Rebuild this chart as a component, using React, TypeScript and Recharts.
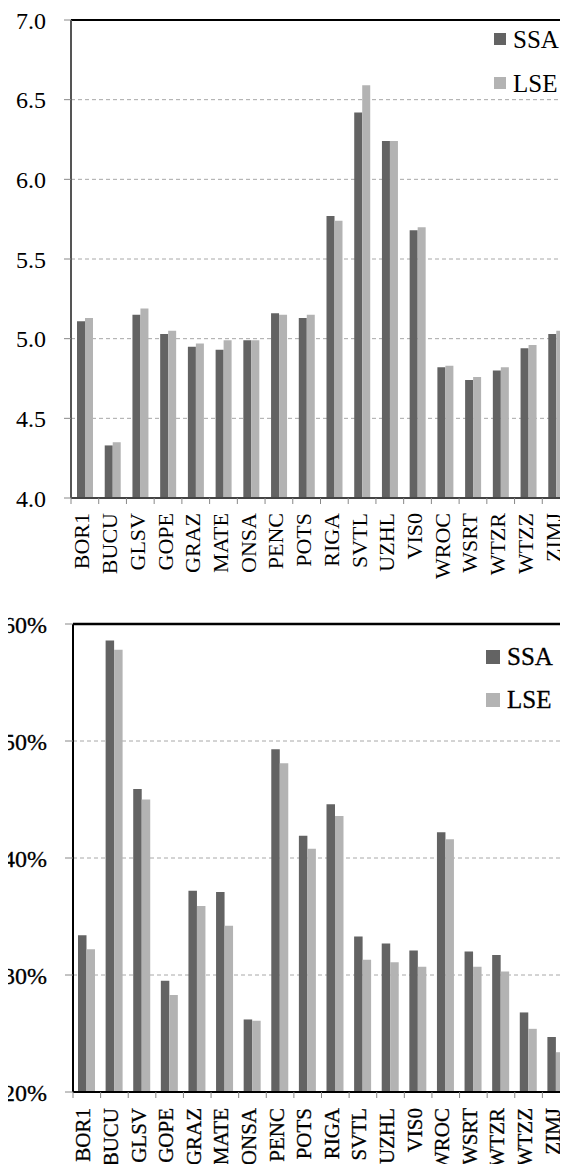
import { BarChart, Bar, XAxis, YAxis, CartesianGrid, Legend, ReferenceLine } from "recharts";

const stations = [
  "BOR1", "BUCU", "GLSV", "GOPE", "GRAZ", "MATE", "ONSA", "PENC", "POTS",
  "RIGA", "SVTL", "UZHL", "VIS0", "WROC", "WSRT", "WTZR", "WTZZ", "ZIMJ",
];
const seriesNames = ["SSA", "LSE"];

// upper panel
const ssaUpper = [5.11, 4.33, 5.15, 5.03, 4.95, 4.93, 4.99, 5.16, 5.13, 5.77, 6.42, 6.24, 5.68, 4.82, 4.74, 4.8, 4.94, 5.03];
const lseUpper = [5.13, 4.35, 5.19, 5.05, 4.97, 4.99, 4.99, 5.15, 5.15, 5.74, 6.59, 6.24, 5.7, 4.83, 4.76, 4.82, 4.96, 5.05];
const upperTicks = [4.0, 4.5, 5.0, 5.5, 6.0, 6.5, 7.0];

// lower panel (percent)
const ssaLower = [33.4, 58.6, 45.9, 29.5, 37.2, 37.1, 26.2, 49.3, 41.9, 44.6, 33.3, 32.7, 32.1, 42.2, 32.0, 31.7, 26.8, 24.7];
const lseLower = [32.2, 57.8, 45.0, 28.3, 35.9, 34.2, 26.1, 48.1, 40.8, 43.6, 31.3, 31.1, 30.7, 41.6, 30.7, 30.3, 25.4, 23.4];
const lowerTicks = [20, 30, 40, 50, 60];

const FONT = '"Liberation Serif", "Times New Roman", serif';
const DARK = "#636363";
const LIGHT = "#b3b3b3";
const CHART_W = 580;
const RIGHT_PAD = 10;

const upperData = stations.map((s, i) => ({ station: s, SSA: ssaUpper[i], LSE: lseUpper[i] }));
const lowerData = stations.map((s, i) => ({ station: s, SSA: ssaLower[i], LSE: lseLower[i] }));

function StationTick(props: any) {
  const { x, y, payload, band, gap, shift, size, heavy } = props;
  const ty = y + gap;
  return (
    <g>
      <line x1={x - band / 2} x2={x - band / 2} y1={y} y2={y + 6} stroke="#888" strokeWidth={1} />
      <text
        x={x + shift}
        y={ty}
        transform={`rotate(-90 ${x + shift} ${ty})`}
        textAnchor="end"
        fontFamily={FONT}
        fontSize={size}
        fill="#000"
        stroke={heavy ? "#000" : "none"}
        strokeWidth={heavy ? 0.3 : 0}
      >
        {payload.value}
      </text>
    </g>
  );
}

function LegendBox(props: any) {
  const { payload, row, swatch, heavy } = props;
  const items = [...(payload || [])].sort(
    (a: any, b: any) => seriesNames.indexOf(a.value) - seriesNames.indexOf(b.value)
  );
  return (
    <div style={{ fontFamily: FONT, fontSize: 25, color: "#000", WebkitTextStroke: heavy ? "0.3px #000" : undefined }}>
      {items.map((p: any) => (
        <div key={p.value} style={{ display: "flex", alignItems: "center", height: row }}>
          <span style={{ display: "inline-block", width: swatch, height: swatch, background: p.color, marginRight: 7 }} />
          <span style={{ lineHeight: 1 }}>{p.value}</span>
        </div>
      ))}
    </div>
  );
}

export default function App() {
  const upperBand = (CHART_W - RIGHT_PAD - 71) / stations.length;
  const lowerBand = (CHART_W - RIGHT_PAD - 73) / stations.length;
  return (
    <div style={{ margin: "-8px", width: 568, height: 1172, overflow: "hidden", background: "#fff" }}>
      <BarChart
        width={CHART_W}
        height={588}
        data={upperData}
        margin={{ top: 20, right: RIGHT_PAD, bottom: 0, left: 0 }}
        barGap={0}
        barSize={8}
      >
        <CartesianGrid vertical={false} stroke="#a8a8a8" strokeDasharray="4 3" />
        <XAxis
          dataKey="station"
          interval={0}
          height={90}
          tickLine={false}
          tickSize={0}
          tickMargin={0}
          axisLine={{ stroke: "#444", strokeWidth: 2 }}
          tick={(p: any) => <StationTick {...p} band={upperBand} gap={15} shift={4.5} size={22} />}
        />
        <YAxis
          width={71}
          domain={[4, 7]}
          ticks={upperTicks}
          tickFormatter={(v: number) => v.toFixed(1)}
          tickSize={7}
          tickMargin={18}
          axisLine={{ stroke: "#555", strokeWidth: 2 }}
          tickLine={{ stroke: "#888" }}
          tick={{ fontFamily: FONT, fontSize: 24, fill: "#000" }}
        />
        <ReferenceLine y={7} stroke="#000" strokeWidth={2} />
        <Legend
          layout="horizontal"
          verticalAlign="middle"
          align="center"
          wrapperStyle={{ top: 17, left: 494, width: 90, height: 88 }}
          content={(p: any) => <LegendBox {...p} row={44} swatch={12} />}
        />
        <Bar dataKey="SSA" name="SSA" fill={DARK} isAnimationActive={false} />
        <Bar dataKey="LSE" name="LSE" fill={LIGHT} isAnimationActive={false} />
      </BarChart>

      <BarChart
        width={CHART_W}
        height={584}
        data={lowerData}
        margin={{ top: 36, right: RIGHT_PAD, bottom: 0, left: 0 }}
        barGap={0}
        barSize={8.5}
      >
        <CartesianGrid vertical={false} stroke="#a8a8a8" strokeDasharray="4 3" />
        <XAxis
          dataKey="station"
          interval={0}
          height={80}
          tickLine={false}
          tickSize={0}
          tickMargin={0}
          axisLine={{ stroke: "#000", strokeWidth: 2 }}
          tick={(p: any) => <StationTick {...p} band={lowerBand} gap={16} shift={3.5} size={21} heavy />}
        />
        <YAxis
          width={73}
          domain={[20, 60]}
          ticks={lowerTicks}
          tickFormatter={(v: number) => `${v}%`}
          tickSize={8}
          tickMargin={18}
          axisLine={{ stroke: "#000", strokeWidth: 2 }}
          tickLine={{ stroke: "#888" }}
          tick={{ fontFamily: FONT, fontSize: 24, fill: "#000", stroke: "#000", strokeWidth: 0.3 }}
        />
        <ReferenceLine y={60} stroke="#000" strokeWidth={2.5} />
        <Legend
          layout="horizontal"
          verticalAlign="middle"
          align="center"
          wrapperStyle={{ top: 47, left: 486, width: 90, height: 86 }}
          content={(p: any) => <LegendBox {...p} row={43} swatch={14} heavy />}
        />
        <Bar dataKey="SSA" name="SSA" fill={DARK} isAnimationActive={false} />
        <Bar dataKey="LSE" name="LSE" fill={LIGHT} isAnimationActive={false} />
      </BarChart>
    </div>
  );
}
